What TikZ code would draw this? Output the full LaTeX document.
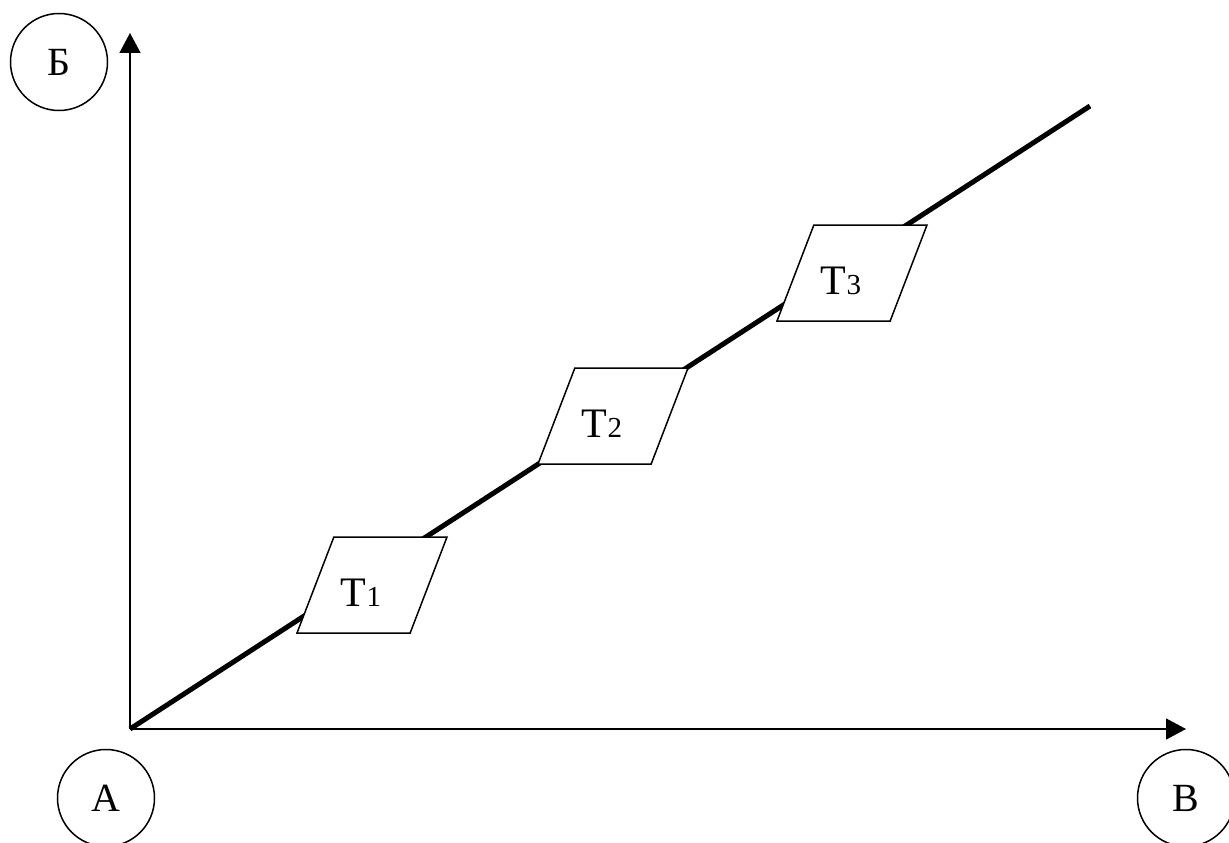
\documentclass[tikz,border=0pt]{standalone}
\usepackage{fontspec}
\setmainfont{Liberation Serif}
\usetikzlibrary{arrows.meta,shapes.geometric}
\tikzset{
  pointnode/.style={draw,circle,line width=1.5pt,minimum size=97pt,inner sep=0pt,
    font=\fontsize{40}{48}\selectfont},
  stagebox/.style={draw,fill=white,line width=1.5pt,trapezium,
    trapezium left angle=69,trapezium right angle=111,trapezium stretches body,
    text height=42pt,text depth=0pt,inner xsep=0pt,inner ysep=27pt,
    minimum width=150pt,font=\fontsize{42}{50}\selectfont},
  axisline/.style={line width=1.5pt,-{Triangle[length=20pt,width=21pt]}},
}
\newcommand{\stagelabel}[1]{Т{\fontsize{29}{34}\selectfont #1}\hspace*{22pt}}

\begin{document}
\begin{tikzpicture}[x=1pt,y=-1pt]
  \useasboundingbox (0,0) rectangle (1229,843);
  % axes and the main line
  \coordinate (origin) at (130,729);
  \coordinate (ytip) at (130,33);
  \coordinate (xtip) at (1186,729);
  \coordinate (lineend) at (1090,106);
  \draw[axisline] (origin) -- (ytip);
  \draw[axisline] (origin) -- (xtip);
  \draw[line width=5pt] (origin) -- (lineend);
  % end points
  \node[pointnode] (pb) at (59,62) {Б};
  \node[pointnode] (pa) at (106,798) {А};
  \node[pointnode] (pv) at (1186,798) {В};
  % stages along the line
  \node[stagebox] (t1) at (372,585) {\stagelabel{1}};
  \node[stagebox] (t2) at (613,416) {\stagelabel{2}};
  \node[stagebox] (t3) at (852,273) {\stagelabel{3}};
\end{tikzpicture}
\end{document}
